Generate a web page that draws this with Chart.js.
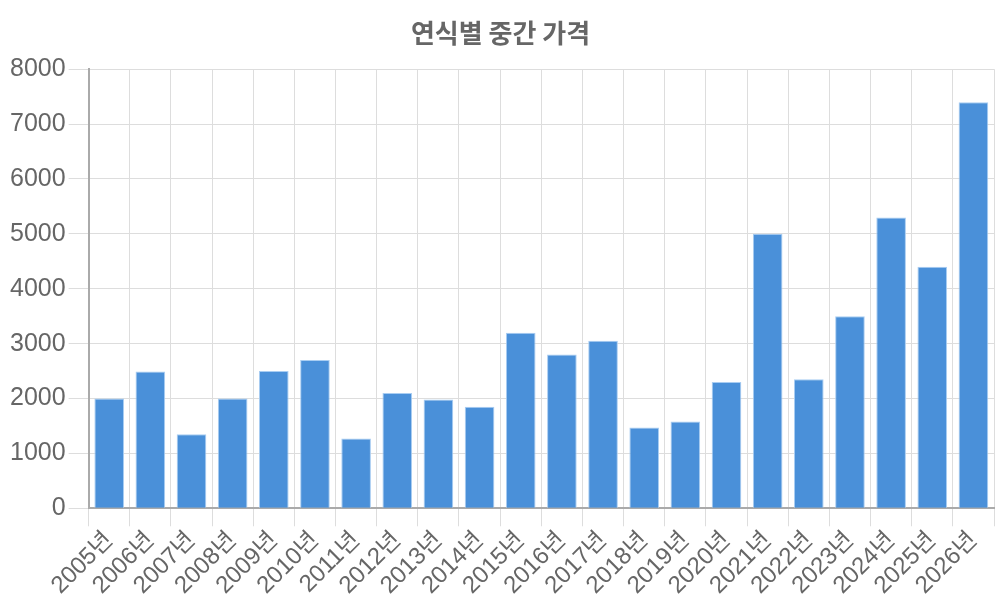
<!DOCTYPE html>
<html>
<head>
<meta charset="utf-8">
<script src="https://cdn.jsdelivr.net/npm/chart.js@4"></script>
<style>
  html, body { margin: 0; padding: 0; background: #fff; }
  #wrap { width: 1000px; height: 600px; }
</style>
</head>
<body>
<div id="wrap"><canvas id="chart"></canvas></div>
<script>
// ===== DATA =====
const years = ['2005년', '2006년', '2007년', '2008년', '2009년', '2010년', '2011년', '2012년', '2013년', '2014년', '2015년',
    '2016년', '2017년', '2018년', '2019년', '2020년', '2021년', '2022년', '2023년', '2024년', '2025년', '2026년'];
const medianPrice = [2000, 2490, 1350, 2000, 2500, 2700, 1270, 2100, 1980, 1850, 3200,
    2800, 3050, 1470, 1580, 2300, 5000, 2350, 3500, 5300, 4400, 7400];
const chartTitle = '연식별 중간 가격';

const fontFamily = '"Liberation Sans", "Noto Sans CJK KR", sans-serif';
Chart.defaults.font.family = fontFamily;
Chart.defaults.color = '#666';

new Chart(document.getElementById('chart'), {
    type: 'bar',
    data: {
        labels: years,
        datasets: [{
            data: medianPrice,
            backgroundColor: '#4a90d9',
            borderColor: '#a9cdf2',
            borderWidth: 1
        }]
    },
    options: {
        responsive: true,
        maintainAspectRatio: false,
        animation: false,
        layout: { padding: { left: 7, right: 6, top: 4, bottom: 0 } },
        plugins: {
            legend: { display: false },
            title: {
                display: true,
                text: chartTitle,
                color: '#666',
                font: { size: 26, weight: 'bold', family: '"Noto Sans CJK KR", sans-serif' },
                padding: { top: 14, bottom: 20 }
            }
        },
        scales: {
            x: {
                grid: { color: '#ddd', tickLength: 18 },
                border: { color: '#aaa', width: 2 },
                ticks: { font: { size: 24 }, color: '#666', autoSkip: false, maxRotation: 45, minRotation: 45, padding: 0 }
            },
            y: {
                min: 0,
                max: 8000,
                ticks: { stepSize: 1000, font: { size: 25 }, color: '#666', padding: 3, callback: v => String(v) },
                grid: { color: '#ddd', tickLength: 20 },
                border: { color: '#aaa', width: 2 }
            }
        }
    }
});
</script>
</body>
</html>
